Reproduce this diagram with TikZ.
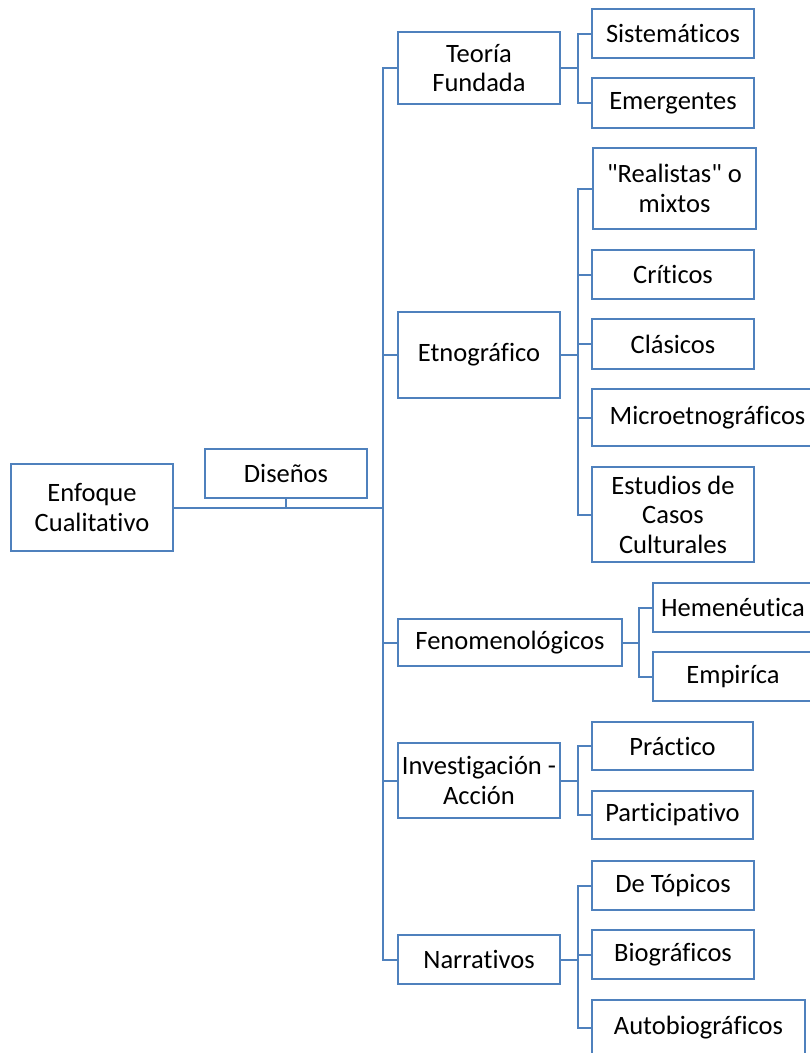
\documentclass[tikz,border=0pt]{standalone}
\usepackage{fontspec}
\setmainfont{Carlito}[Ligatures={TeXOff,NoCommon}]
\definecolor{mapblue}{RGB}{79,129,189}
\tikzset{
  mapbox/.style={draw=mapblue,line width=2pt,fill=white,align=center,inner sep=2pt,
    minimum width=162pt,font=\fontsize{26.5}{29.5}\selectfont},
  maplink/.style={draw=mapblue,line width=2pt}
}
\begin{document}
\begin{tikzpicture}[x=1pt,y=-1pt]
  \useasboundingbox (0,0) rectangle (810,1053);
  \clip (0,0) rectangle (810,1053);

  \node[mapbox,minimum height=87pt] (enfoque) at (92,507.5) {Enfoque\\Cualitativo};
  \node[mapbox,minimum height=49pt] (disenos) at (286,473.5) {Diseños};
  \coordinate (trunk) at (383,507.5);

  \node[mapbox,minimum height=72pt] (teoria) at (479,68) {Teoría\\Fundada};
  \node[mapbox,minimum height=86pt] (etno) at (479,355) {Etnográfico};
  \node[mapbox,minimum height=47pt,minimum width=224pt] (feno) at (510,642.5) {Fenomenológicos};
  \node[mapbox,minimum height=75pt] (invest) at (479,780.5) {Investigación -\\Acción};
  \node[mapbox,minimum height=49pt] (narr) at (479,959.5) {Narrativos};

  \node[mapbox,minimum height=49pt] (sist) at (673,33.5) {Sistemáticos};
  \node[mapbox,minimum height=50pt] (emerg) at (673,103) {Emergentes};

  \node[mapbox,minimum height=81pt,minimum width=163pt] (realist) at (674.5,188.5) {"Realistas" o\\mixtos};
  \node[mapbox,minimum height=49pt] (criticos) at (673,274.5) {Críticos};
  \node[mapbox,minimum height=50pt] (clasicos) at (673,344) {Clásicos};
  \node[mapbox,minimum height=57pt,minimum width=231pt] (micro) at (707.5,417.5) {Microetnográficos};
  \node[mapbox,minimum height=95pt] (estudios) at (673,514.5) {Estudios de\\Casos\\Culturales};

  \node[mapbox,minimum height=49pt,minimum width=160pt] (hemen) at (733,607.5) {Hemenéutica};
  \node[mapbox,minimum height=49pt,minimum width=160pt] (empir) at (733,676.5) {Empiríca};

  \node[mapbox,minimum height=48pt,minimum width=161pt] (practico) at (672.5,746) {Práctico};
  \node[mapbox,minimum height=48pt,minimum width=161pt] (partic) at (672.5,815) {Participativo};

  \node[mapbox,minimum height=49pt] (topicos) at (673,885.5) {De Tópicos};
  \node[mapbox,minimum height=49pt] (biog) at (673,954.5) {Biográficos};
  \node[mapbox,minimum height=56pt,minimum width=213pt] (autob) at (698.5,1028) {Autobiográficos};

  \draw[maplink] (enfoque) -- (trunk);
  \draw[maplink] (disenos) -- (disenos |- trunk);
  \foreach \n in {teoria,etno,feno,invest,narr}
    \draw[maplink] (trunk) |- (\n.west);

  \draw[maplink] (teoria.east) -- ++(17,0) |- (sist.west);
  \draw[maplink] (teoria.east) -- ++(17,0) |- (emerg.west);
  \foreach \n in {realist,criticos,clasicos,micro,estudios}
    \draw[maplink] (etno.east) -- ++(17,0) |- (\n.west);
  \draw[maplink] (feno.east) -- ++(16,0) |- (hemen.west);
  \draw[maplink] (feno.east) -- ++(16,0) |- (empir.west);
  \draw[maplink] (invest.east) -- ++(17,0) |- (practico.west);
  \draw[maplink] (invest.east) -- ++(17,0) |- (partic.west);
  \foreach \n in {topicos,biog,autob}
    \draw[maplink] (narr.east) -- ++(17,0) |- (\n.west);
\end{tikzpicture}
\end{document}
